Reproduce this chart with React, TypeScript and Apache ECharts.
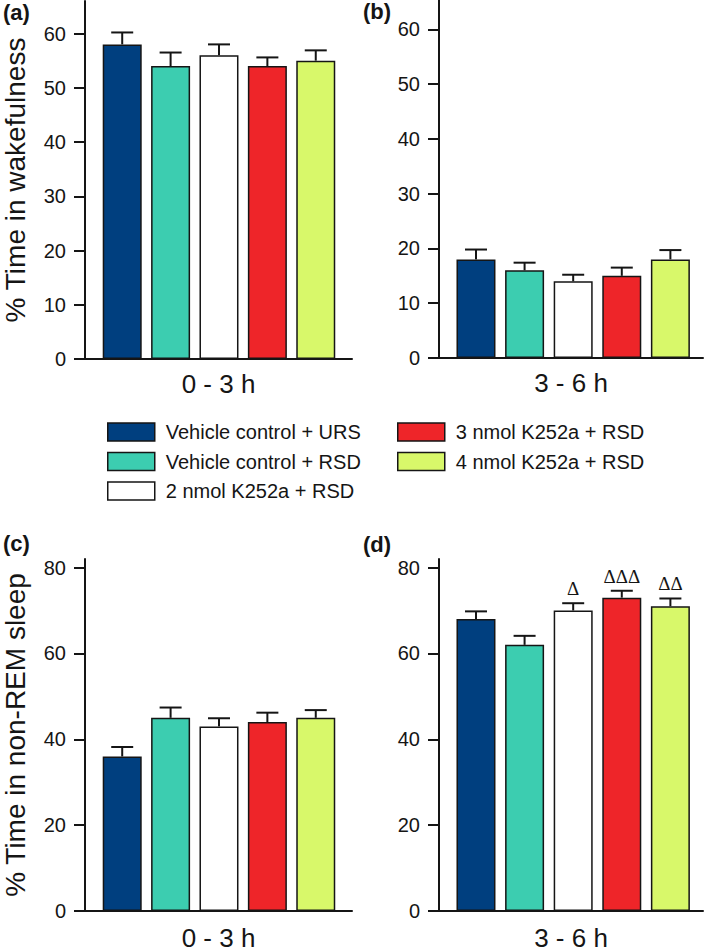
import React, { useEffect, useRef } from "react";
import * as echarts from "echarts";

const groups = [
  "Vehicle control + URS",
  "Vehicle control + RSD",
  "2 nmol K252a + RSD",
  "3 nmol K252a + RSD",
  "4 nmol K252a + RSD",
];
const groupColors = ["#003F7F", "#3CCDB0", "#FFFFFF", "#EE2529", "#D8F86A"];

const periods = ["0 - 3 h", "3 - 6 h"];
const yTitles = ["% Time in wakefulness", "% Time in non-REM sleep"];
const panelLetters = ["(a)", "(b)", "(c)", "(d)"];

const wakeTicks = [0, 10, 20, 30, 40, 50, 60];
const nremTicks = [0, 20, 40, 60, 80];

const wakeEarly = [58, 54, 56, 54, 55];
const wakeEarlyErr = [2.2, 2.5, 2.0, 1.6, 1.9];
const wakeLate = [18, 16, 14, 15, 18];
const wakeLateErr = [1.8, 1.4, 1.2, 1.5, 1.7];
const nremEarly = [36, 45, 43, 44, 45];
const nremEarlyErr = [2.2, 2.4, 1.9, 2.2, 1.8];
const nremLate = [68, 62, 70, 73, 71];
const nremLateErr = [1.8, 2.1, 1.7, 1.6, 1.8];
const nremLateMarks = ["", "", "Δ", "ΔΔΔ", "ΔΔ"];

const FONT = "'Liberation Sans', Arial, Helvetica, sans-serif";
const INK = "#151515";

const panels = [
  { values: wakeEarly, errs: wakeEarlyErr, marks: null as string[] | null, ticks: wakeTicks, yMax: 66, xName: periods[0], yName: yTitles[0],
    grid: { left: 83, top: 1, width: 269, height: 358 }, xMin: -0.769, xMax: 4.749 },
  { values: wakeLate, errs: wakeLateErr, marks: null as string[] | null, ticks: wakeTicks, yMax: 65.35, xName: periods[1], yName: "",
    grid: { left: 439, top: 0, width: 264, height: 358 }, xMin: -0.761, xMax: 4.671 },
  { values: nremEarly, errs: nremEarlyErr, marks: null as string[] | null, ticks: nremTicks, yMax: 82, xName: periods[0], yName: yTitles[1],
    grid: { left: 83, top: 559, width: 269, height: 357.7 }, xMin: -0.769, xMax: 4.749 },
  { values: nremLate, errs: nremLateErr, marks: nremLateMarks, ticks: nremTicks, yMax: 82, xName: periods[1], yName: "",
    grid: { left: 439, top: 559, width: 264, height: 357.7 }, xMin: -0.761, xMax: 4.671 },
];

function buildOption() {
  const grid: any[] = [];
  const xAxis: any[] = [];
  const yAxis: any[] = [];
  const series: any[] = [];

  panels.forEach((p, pi) => {
    grid.push({ ...p.grid, containLabel: false });
    xAxis.push({
      type: "value",
      gridIndex: pi,
      min: p.xMin,
      max: p.xMax,
      axisLine: { show: true, onZero: false, lineStyle: { color: INK, width: 2 } },
      axisTick: { show: false },
      axisLabel: { show: false },
      splitLine: { show: false },
      name: p.xName,
      nameLocation: "middle",
      nameGap: pi >= 2 ? 14 : 12,
      nameTextStyle: { fontFamily: FONT, fontSize: 26, color: INK, verticalAlign: "top" },
    });
    yAxis.push({
      type: "value",
      gridIndex: pi,
      min: 0,
      max: p.yMax,
      axisLine: { show: true, onZero: false, lineStyle: { color: INK, width: 2 } },
      axisTick: { show: true, length: 11, lineStyle: { color: INK, width: 2 }, customValues: p.ticks },
      axisLabel: { show: true, fontFamily: FONT, fontSize: 20, color: INK, margin: 19, customValues: p.ticks },
      splitLine: { show: false },
      name: p.yName,
      nameLocation: "middle",
      nameRotate: 90,
      nameGap: 56,
      nameTextStyle: { fontFamily: FONT, fontSize: 28, color: INK },
    });

    groups.forEach((g, gi) => {
      series.push({
        type: "bar",
        name: g,
        xAxisIndex: pi,
        yAxisIndex: pi,
        barWidth: 39,
        barGap: "-100%",
        itemStyle: { color: groupColors[gi], borderColor: INK, borderWidth: 1.5 },
        data: [[gi, p.values[gi]]],
        z: 2,
      });
    });

    const marks = p.marks;
    series.push({
      type: "custom",
      xAxisIndex: pi,
      yAxisIndex: pi,
      z: 5,
      clip: false,
      data: p.values.map((v, i) => [i, v, p.errs[i]]),
      renderItem: (params: any, api: any) => {
        const x = api.value(0);
        const v = api.value(1);
        const e = api.value(2);
        const b = api.coord([x, v]);
        const bx = b[0];
        const by = b[1];
        const t = api.coord([x, v + e]);
        const tx = t[0];
        const ty = t[1];
        const children: any[] = [
          { type: "rect", shape: { x: bx - 1, y: ty, width: 2, height: by - ty }, style: { fill: INK } },
          { type: "rect", shape: { x: tx - 11, y: ty - 1, width: 22, height: 2 }, style: { fill: INK } },
        ];
        const m = marks ? marks[params.dataIndex] : "";
        if (m) {
          children.push({
            type: "text",
            x: tx,
            y: ty - 5,
            style: { text: m, fontSize: 19, fontFamily: "'Liberation Serif', 'Times New Roman', serif", fill: INK, align: "center", verticalAlign: "bottom" },
          });
        }
        return { type: "group", children };
      },
    });
  });

  const legendCommon = {
    orient: "vertical",
    icon: "rect",
    padding: 0,
    itemWidth: 47,
    itemHeight: 18,
    itemGap: 9.5,
    selectedMode: false,
    itemStyle: { borderColor: INK, borderWidth: 1.5 },
    textStyle: { fontFamily: FONT, fontSize: 20, color: INK, lineHeight: 20, padding: [0, 0, 0, 6] },
  };

  return {
    animation: false,
    backgroundColor: "#ffffff",
    grid,
    xAxis,
    yAxis,
    series,
    legend: [
      { ...legendCommon, left: 107, top: 422, data: groups.slice(0, 3) },
      { ...legendCommon, left: 397, top: 422, data: groups.slice(3) },
    ],
    graphic: [
      { type: "text", left: 3, top: 1, style: { text: panelLetters[0], fontFamily: FONT, fontWeight: "bold", fontSize: 22, fill: INK } },
      { type: "text", left: 363, top: 0, style: { text: panelLetters[1], fontFamily: FONT, fontWeight: "bold", fontSize: 22, fill: INK } },
      { type: "text", left: 3, top: 532, style: { text: panelLetters[2], fontFamily: FONT, fontWeight: "bold", fontSize: 22, fill: INK } },
      { type: "text", left: 363, top: 533, style: { text: panelLetters[3], fontFamily: FONT, fontWeight: "bold", fontSize: 22, fill: INK } },
    ],
  };
}

export default function App() {
  const ref = useRef<HTMLDivElement>(null);
  useEffect(() => {
    document.body.style.margin = "0";
    if (!ref.current) return;
    const chart = echarts.init(ref.current, null, { renderer: "svg" });
    chart.setOption(buildOption() as any);
    return () => chart.dispose();
  }, []);
  return <div ref={ref} style={{ position: "absolute", left: 0, top: 0, width: 709, height: 952 }} />;
}
